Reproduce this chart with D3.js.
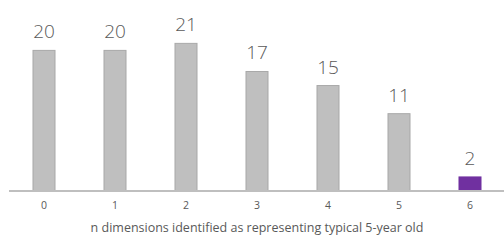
<!DOCTYPE html>
<html>
<head>
<meta charset="utf-8">
<script src="https://cdn.jsdelivr.net/npm/d3@7"></script>
<style>
  body { margin: 0; background: #fff; }
  svg { display: block; }
</style>
</head>
<body>
<div id="chart"></div>
<script>
var svgWidth = 504;
var svgHeight = 241;

// chart data
var categories = ["0", "1", "2", "3", "4", "5", "6"];
var counts = [20, 20, 21, 17, 15, 11, 2];
var highlight = ["6"];
var xTitle = "n dimensions identified as representing typical 5-year old";

var baseline = 191;

var svg = d3.select("#chart")
  .append("svg")
  .attr("width", svgWidth)
  .attr("height", svgHeight);

var data = categories.map((c, i) => ({ cat: c, value: counts[i] }));

var xScale = d3.scaleBand()
  .domain(categories)
  .range([8.5, 505.5])
  .paddingInner(0.69)
  .paddingOuter(0.345);

var yScale = d3.scaleLinear()
  .domain([0, 25])
  .range([baseline, baseline - 7.03 * 25]);

// bars
svg.selectAll("rect.bar")
  .data(data)
  .enter()
  .append("rect")
  .attr("class", "bar")
  .attr("x", d => xScale(d.cat))
  .attr("y", d => yScale(d.value))
  .attr("width", xScale.bandwidth())
  .attr("height", d => baseline - yScale(d.value))
  .attr("fill", d => highlight.includes(d.cat) ? "#7030a0" : "#bfbfbf")
  .attr("stroke", d => highlight.includes(d.cat) ? "#7030a0" : "#a9a9a9")
  .attr("stroke-width", 1);

// baseline axis
var xAxis = d3.axisBottom(xScale).tickSize(0).tickPadding(11);
var axisG = svg.append("g")
  .attr("transform", `translate(0, ${baseline})`)
  .call(xAxis);
axisG.select(".domain")
  .attr("d", "M9,0H504")
  .attr("stroke", "#bfbfbf")
  .attr("stroke-width", 2);
axisG.selectAll("text")
  .attr("fill", "#595959")
  .attr("font-family", "'Open Sans', sans-serif")
  .attr("font-size", 10.5);

// value labels
svg.selectAll("text.val")
  .data(data)
  .enter()
  .append("text")
  .attr("class", "val")
  .attr("x", d => xScale(d.cat) + xScale.bandwidth() / 2)
  .attr("y", d => yScale(d.value) - 12)
  .attr("text-anchor", "middle")
  .attr("font-family", "'Open Sans', sans-serif")
  .attr("font-weight", 300)
  .attr("font-size", 19)
  .attr("fill", "#595959")
  .text(d => d.value);

// axis title
svg.append("text")
  .attr("x", 257)
  .attr("y", 232)
  .attr("text-anchor", "middle")
  .attr("font-family", "'Open Sans', sans-serif")
  .attr("font-size", 12.5)
  .attr("fill", "#595959")
  .text(xTitle);
</script>
</body>
</html>
